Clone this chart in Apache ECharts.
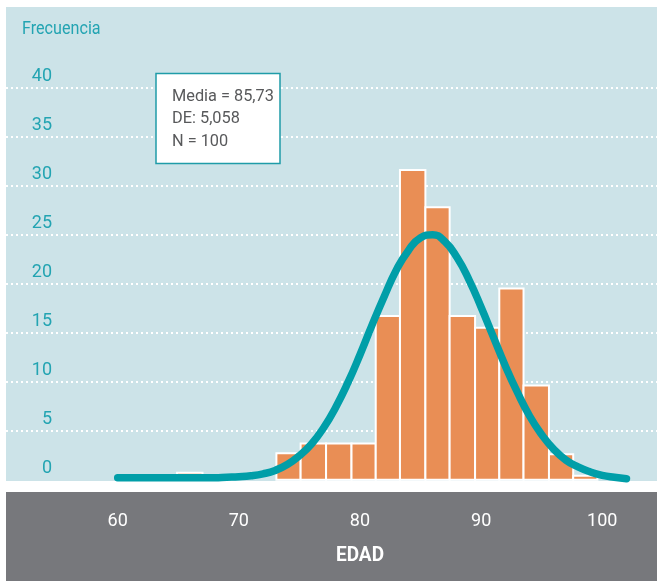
<!DOCTYPE html>
<html>
<head>
<meta charset="utf-8">
<script src="https://cdn.jsdelivr.net/npm/echarts@6/dist/echarts.min.js"></script>
<style>
  html, body { margin: 0; padding: 0; background: #fff; }
  #chart { width: 657px; height: 581px; }
</style>
</head>
<body>
<div id="chart"></div>
<script>
// histogram bins: [start, end] of each bar on the EDAD axis, and its height
const binStart = [64.9, 73.1, 75.1, 77.2, 79.3, 81.3, 83.3, 85.4, 87.4, 89.5, 91.5, 93.5, 95.6, 97.6];
const binEnd = [67.0, 75.1, 77.2, 79.3, 81.3, 83.3, 85.4, 87.4, 89.5, 91.5, 93.5, 95.6, 97.6, 99.6];
const binCount = [0.7, 2.7, 3.7, 3.7, 3.7, 16.7, 31.6, 27.8, 16.7, 15.5, 19.5, 9.6, 2.6, 0.4];

// normal curve
const curveX = [60, 61, 62, 63, 64, 65, 66, 67, 68, 69, 70, 71, 72, 73, 74, 75, 76, 77, 78, 79, 80,
  81, 82, 83, 84, 85, 86, 87, 88, 89, 90, 91, 92, 93, 94, 95, 96, 97, 98, 99, 100, 101, 102];
const curveY = [0.2, 0.2, 0.2, 0.2, 0.2, 0.2, 0.2, 0.2, 0.2, 0.25, 0.3, 0.4, 0.6, 0.95, 1.55, 2.45,
  3.65, 5.3, 7.4, 9.9, 12.75, 15.8, 18.7, 21.4, 23.4, 24.7, 25.0, 24.3, 22.7, 20.4, 17.6, 14.6,
  11.6, 8.9, 6.5, 4.6, 3.1, 2.0, 1.3, 0.8, 0.45, 0.25, 0.1];

const statsLines = ["Media = 85,73", "DE: 5,058", "N = 100"];
const xTicks = [60, 70, 80, 90, 100];

const font = "Roboto, 'Liberation Sans', sans-serif";
const teal = "#009ea8";
const labelTeal = "#23a4b2";

const bars = binStart.map((s, i) => [s, binEnd[i], binCount[i]]);
const curve = curveX.map((x, i) => [x, curveY[i]]);

let option = {
  animation: false,
  backgroundColor: "#ffffff",
  textStyle: { fontFamily: font },
  graphic: [
    {
      type: "rect",
      z: -10,
      silent: true,
      shape: { x: 6, y: 7, width: 651, height: 474 },
      style: { fill: "#cce3e8" },
    },
    {
      type: "rect",
      z: -10,
      silent: true,
      shape: { x: 6, y: 492, width: 651, height: 89 },
      style: { fill: "#77787c" },
    },
    {
      // y axis title
      type: "text",
      z: 10,
      x: 22,
      y: 29,
      scaleX: 0.85,
      style: {
        text: "Frecuencia",
        fill: labelTeal,
        font: "19px " + font,
        textVerticalAlign: "middle",
      },
    },
    {
      type: "text",
      z: 10,
      x: 360,
      y: 556,
      scaleX: 0.95,
      style: {
        text: "EDAD",
        fill: "#ffffff",
        font: "bold 20px " + font,
        textAlign: "center",
        textVerticalAlign: "middle",
      },
    },
    {
      type: "rect",
      z: 100,
      shape: { x: 156, y: 73.5, width: 124, height: 90 },
      style: { fill: "#ffffff", stroke: "#1f9ca8", lineWidth: 1.5 },
    },
    {
      type: "text",
      z: 101,
      x: 172,
      y: 85,
      scaleX: 0.96,
      style: {
        text: statsLines.join("\n"),
        fill: "#58595b",
        font: "17px " + font,
        lineHeight: 22.7,
        textVerticalAlign: "top",
      },
    },
  ],
  grid: [
    { left: 6, right: 0, top: 87.7, bottom: 101.3 },
    { left: 117.7, right: 30.5, top: 87.7, bottom: 101.3 },
  ],
  xAxis: [
    { gridIndex: 0, type: "value", min: 0, max: 1, show: false },
    {
      gridIndex: 1,
      type: "value",
      min: 60,
      max: 102,
      interval: 10,
      showMaxLabel: false,
      axisLine: { show: false },
      axisTick: { show: false },
      splitLine: { show: false },
      axisLabel: {
        margin: 33,
        color: "#ffffff",
        fontSize: 18,
        fontFamily: font,
        formatter: (v) => (xTicks.includes(v) ? String(v) : ""),
      },
    },
  ],
  yAxis: [
    {
      gridIndex: 0,
      type: "value",
      min: 0,
      max: 40,
      interval: 5,
      axisLine: { show: false },
      axisTick: { show: false },
      splitLine: {
        show: true,
        showMinLine: false,
        lineStyle: { color: "#ffffff", width: 2, type: [2, 3] },
      },
      axisLabel: {
        inside: true,
        margin: 46,
        align: "right",
        verticalAlign: "bottom",
        lineHeight: 22,
        color: labelTeal,
        fontSize: 18,
        fontFamily: font,
      },
    },
    { gridIndex: 1, type: "value", min: 0, max: 40, show: false },
  ],
  series: [
    {
      type: "custom",
      xAxisIndex: 1,
      yAxisIndex: 1,
      z: 3,
      data: bars,
      renderItem: function (params, api) {
        const p0 = api.coord([api.value(0), 0]);
        const p1 = api.coord([api.value(1), api.value(2)]);
        return {
          type: "rect",
          shape: { x: p0[0], y: p1[1], width: p1[0] - p0[0], height: p0[1] - p1[1] },
          style: { fill: "#e98e55", stroke: "#ffffff", lineWidth: 2 },
        };
      },
    },
    {
      type: "line",
      xAxisIndex: 1,
      yAxisIndex: 1,
      z: 5,
      clip: false,
      smooth: 0.5,
      showSymbol: false,
      data: curve,
      lineStyle: { color: teal, width: 7.5, cap: "round", join: "round" },
    },
  ],
};

function setGraph(el, opt) {
  if (!el) return;
  let myChart = echarts.getInstanceByDom(el);
  if (myChart) myChart.dispose();
  myChart = echarts.init(el, null, { renderer: "canvas" });
  myChart.setOption(opt);
}

setGraph(document.getElementById("chart"), option);
</script>
</body>
</html>
